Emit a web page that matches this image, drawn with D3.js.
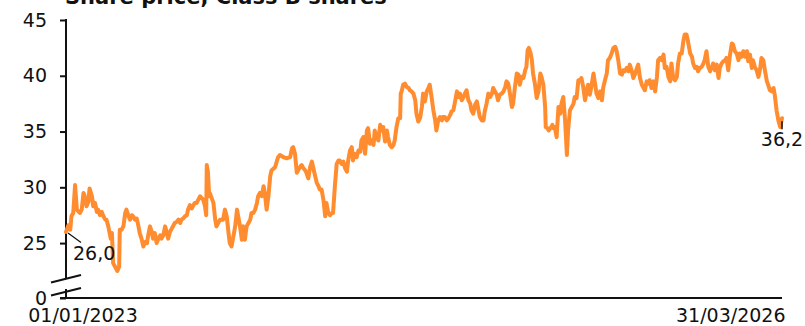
<!DOCTYPE html>
<html>
<head>
<meta charset="utf-8">
<script src="https://cdn.jsdelivr.net/npm/d3@7"></script>
<style>
  html, body { margin: 0; padding: 0; background: #ffffff; }
  svg { display: block; }
</style>
</head>
<body>
<div id="chart"></div>
<script>
// ---------- data ----------
const chartTitle = "Share price, Class B shares";
const startDateStr = "2023-01-01";
const endDateStr = "2026-03-31";
const xTickLabels = ["01/01/2023", "31/03/2026"];
const yTickValues = [0, 25, 30, 35, 40, 45];
const yTickLabels = ["0", "25", "30", "35", "40", "45"];
const firstLabel = "26,0";
const lastLabel = "36,2";

// days since 2023-01-01
const dayOffsets = [
0,4,7,9,12,15,18,23,26,29,31,34,37,39,43,45,48,51,53,56,59,62,65,67,70,73,74,76,78,81,85,88,
89,92,95,98,100,103,106,109,111,114,117,120,122,125,128,131,134,136,139,142,144,147,150,153,156,158,161,164,167,169,
172,175,178,180,183,186,189,191,194,197,200,202,205,208,211,213,216,219,222,225,227,230,232,233,235,237,
238,244,247,249,255,260,263,266,269,271,274,277,280,283,285,288,291,293,296,299,302,305,307,310,313,316,318,321,324,327,329,332,335,
338,340,346,351,354,360,365,371,374,376,379,382,384,387,390,393,396,398,401,404,407,409,412,415,418,420,423,426,429,431,434,437,440,442,
445,448,451,453,456,459,462,465,467,470,473,475,478,481,484,487,489,492,495,498,500,503,506,509,511,514,517,520,522,525,528,531,533,536,539,542,544,547,550,553,
554,556,558,561,564,567,569,572,575,578,580,583,586,589,591,594,597,600,602,605,608,611,613,616,619,622,624,627,630,633,636,638,641,644,647,649,652,655,658,660,663,666,669,671,674,677,680,682,685,688,691,693,696,699,702,705,707,710,
713,715,718,721,724,727,729,732,735,738,740,743,746,749,751,754,757,760,762,764,766,769,771,773,776,779,782,785,787,790,793,794,797,799,803,805,807,809,812,815,818,820,823,826,829,831,834,837,840,842,845,848,851,853,856,859,862,864,867,870,873,875,878,881,884,887,889,892,895,897,900,903,906,909,911,914,917,920,922,925,928,931,933,936,939,942,945,947,
950,953,955,958,961,964,966,969,972,975,978,980,983,986,989,991,994,997,1000,1002,1005,1008,1011,1013,1016,1019,1022,1024,1027,1030,1033,1036,1038,1041,1044,1046,1049,1052,1055,1057,1060,1063,1066,1069,1071,1074,1077,1080,1082,1085,1088,1091,1093,1096,1099,1102,1104,1107,1110,1113,1115,1118,1121,1124,1127,1129,1132,1135,1137,1140,1143,1146,1149,1151,1154,1157,1160,1162,1165,1168,1171,1173,1176,1179,1182,1185
];
const prices = [
26.0,26.6,26.2,27.4,27.7,30.2,28.0,27.7,28.0,29.5,29.2,28.3,28.7,29.9,29.2,28.3,28.6,27.8,28.0,27.5,27.8,27.4,27.1,27.1,26.5,25.7,25.4,25.9,23.2,22.9,22.5,22.9,
26.2,26.2,26.5,27.7,28.0,27.5,27.1,27.5,27.4,27.1,27.2,26.5,25.9,25.4,24.7,25.1,25.0,25.7,26.5,26.0,25.4,25.9,25.0,25.4,25.7,25.4,25.7,26.5,25.9,25.4,
26.0,26.3,26.6,26.8,26.9,27.1,26.8,27.1,27.2,27.4,27.5,28.0,28.4,28.1,28.4,28.6,28.6,28.9,29.2,29.0,28.9,28.3,27.5,32.0,31.3,29.2,
29.5,28.6,27.1,26.5,27.1,27.1,28.0,27.4,25.9,25.0,24.7,25.6,26.5,28.0,27.4,26.5,25.3,26.5,25.3,26.5,26.8,27.1,27.7,27.7,28.0,28.6,29.2,29.5,29.2,30.1,29.5,28.0,29.2,
31.0,31.5,31.8,32.7,32.9,32.7,32.6,32.7,33.5,33.6,33.0,31.3,31.5,31.8,32.0,31.7,31.5,31.3,30.8,31.8,32.3,31.8,31.1,30.4,30.1,29.8,29.8,28.9,27.4,28.6,27.7,27.5,27.7,27.7,
30.1,32.1,32.4,32.4,32.1,32.3,31.7,31.4,32.4,33.3,33.6,32.4,33.0,32.7,33.3,33.2,34.2,34.5,33.0,35.1,35.3,33.9,34.2,33.8,35.1,34.5,34.2,35.6,35.1,35.4,34.1,35.1,34.5,33.8,33.6,33.8,34.2,35.4,36.2,36.2,
38.4,38.7,39.2,39.3,39.0,38.9,38.7,38.6,38.4,37.8,36.6,35.9,36.2,37.2,38.4,37.7,38.6,38.9,39.2,38.1,36.9,36.0,35.1,36.0,36.3,36.0,36.3,36.3,36.0,36.2,36.5,36.8,36.9,37.7,38.6,38.1,38.4,37.8,38.1,38.4,38.7,37.8,37.5,36.9,36.6,37.4,37.7,37.1,36.3,36.0,36.0,36.8,37.5,38.4,38.1,38.4,38.9,38.6,
38.3,37.8,38.3,38.4,38.6,39.0,39.5,39.3,38.3,37.2,37.5,39.0,40.2,40.1,39.2,39.9,39.8,40.5,40.8,42.3,42.5,42.0,41.4,40.2,39.3,38.0,38.6,40.2,39.9,39.2,37.2,35.4,35.3,35.1,35.4,35.6,35.3,35.4,34.5,37.2,36.6,37.5,38.1,36.0,32.9,35.1,36.9,37.2,37.5,38.1,38.0,39.6,39.6,39.8,39.0,37.8,38.7,39.2,38.3,39.2,40.2,39.5,38.4,38.0,38.6,37.8,38.9,39.6,40.2,41.4,41.6,42.0,42.5,42.6,42.3,41.4,40.2,40.1,40.5,40.4,40.7,40.4,41.0,40.5,39.8,40.2,40.7,41.0,
39.8,39.2,39.0,38.7,39.5,39.3,39.6,38.9,39.5,38.6,39.9,41.4,41.6,41.4,41.9,40.7,40.8,39.9,39.5,41.1,39.8,39.6,39.9,41.1,42.0,42.0,43.2,43.7,43.7,42.9,42.0,41.7,41.1,40.7,40.8,40.4,40.7,40.8,41.1,41.4,42.2,40.8,40.4,40.8,41.1,40.5,41.0,39.8,40.7,41.1,41.3,41.4,41.6,40.5,41.9,42.9,42.8,42.2,42.0,41.4,42.0,41.7,42.2,41.7,42.2,41.3,41.9,40.7,41.4,40.8,40.5,39.9,40.7,41.6,41.4,40.4,39.5,39.2,38.7,38.6,38.9,38.3,36.9,36.0,35.4,36.2
];

// ---------- layout ----------
const W = 805, H = 326;
const left = 66, right = 782;
const fontFam = "'DejaVu Sans', Verdana, sans-serif";
const ink = "#111111";
const lineColor = "#ff8c2f";

const parse = d3.timeParse("%Y-%m-%d");
const startDate = parse(startDateStr);
const endDate = parse(endDateStr);
const data = dayOffsets.map((d, i) => ({ date: d3.timeDay.offset(startDate, d), value: prices[i] }));

const x = d3.scaleTime().domain([startDate, endDate]).range([left, right]);
// broken axis: 0 at bottom, 22..45 above break
const y = d3.scaleLinear().domain([0, 22, 45]).range([298, 276.55, 20]);

const svg = d3.select("#chart").append("svg")
  .attr("width", W).attr("height", H)
  .style("font-family", fontFam);

// title (partly cut off at top, as in the reference)
svg.append("text")
  .attr("x", 65).attr("y", 4)
  .attr("font-size", 21).attr("font-weight", "bold")
  .attr("fill", ink)
  .text(chartTitle);

// y axis ticks + labels
const yAxis = d3.axisLeft(y)
  .tickValues(yTickValues)
  .tickFormat((d, i) => yTickLabels[i])
  .tickSize(6).tickPadding(13);
const gy = svg.append("g").attr("transform", `translate(${left},0)`).call(yAxis);
gy.select(".domain").remove();
gy.selectAll(".tick line").attr("stroke", ink).attr("stroke-width", 2);
gy.selectAll(".tick text").attr("font-size", 19).attr("font-family", fontFam).attr("fill", ink);

// y axis line with break
svg.append("line").attr("x1", left).attr("x2", left).attr("y1", y(45) - 1).attr("y2", 279)
  .attr("stroke", ink).attr("stroke-width", 2);
svg.append("line").attr("x1", left).attr("x2", left).attr("y1", 289).attr("y2", y(0))
  .attr("stroke", ink).attr("stroke-width", 2);
// break marks
[[282.5, 275], [295.5, 288]].forEach(([ya, yb]) => {
  svg.append("line").attr("x1", 51).attr("y1", ya).attr("x2", 81).attr("y2", yb)
    .attr("stroke", ink).attr("stroke-width", 2);
});

// x axis line
svg.append("line").attr("x1", left - 6).attr("x2", right).attr("y1", y(0)).attr("y2", y(0))
  .attr("stroke", ink).attr("stroke-width", 2);

// x labels
const xAxis = d3.axisBottom(x)
  .tickValues([startDate, endDate])
  .tickFormat((d, i) => xTickLabels[i])
  .tickSize(0).tickPadding(11);
const gx = svg.append("g").attr("transform", `translate(0,${y(0)})`).call(xAxis);
gx.select(".domain").remove();
gx.selectAll(".tick text").attr("font-size", 19).attr("font-family", fontFam).attr("fill", ink)
  .attr("text-anchor", (d, i) => i === 0 ? "middle" : "end")
  .attr("dx", (d, i) => i === 0 ? 16.5 : 3);

// line
const line = d3.line().x(d => x(d.date)).y(d => y(d.value));
svg.append("path").datum(data)
  .attr("d", line)
  .attr("fill", "none")
  .attr("stroke", lineColor)
  .attr("stroke-width", 4)
  .attr("stroke-linejoin", "round")
  .attr("stroke-linecap", "round");

// first value annotation
const f = data[0], l = data[data.length - 1];
svg.append("line")
  .attr("x1", x(f.date) + 2).attr("y1", y(f.value) + 1)
  .attr("x2", x(f.date) + 15).attr("y2", y(f.value) + 10.5)
  .attr("stroke", ink).attr("stroke-width", 1.2);
svg.append("text")
  .attr("x", x(f.date) + 7).attr("y", y(f.value) + 28)
  .attr("font-size", 19).attr("fill", ink)
  .text(firstLabel);

// last value annotation
svg.append("line")
  .attr("x1", x(l.date)).attr("y1", y(l.value) + 3)
  .attr("x2", x(l.date)).attr("y2", y(l.value) + 11)
  .attr("stroke", ink).attr("stroke-width", 1.5);
svg.append("text")
  .attr("x", x(l.date)).attr("y", y(l.value) + 27.5)
  .attr("text-anchor", "middle")
  .attr("font-size", 19).attr("fill", ink)
  .text(lastLabel);
</script>
</body>
</html>
